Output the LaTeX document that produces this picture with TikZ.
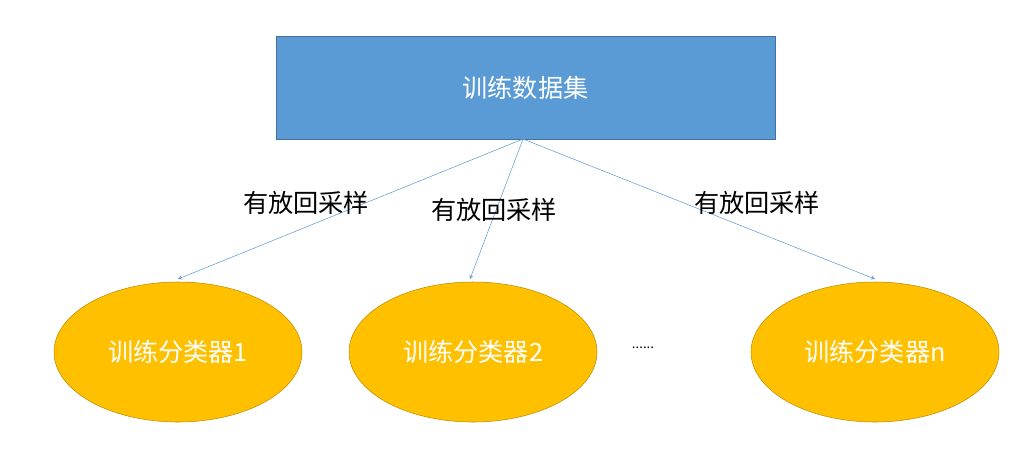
\documentclass[tikz,border=0pt]{standalone}
\usepackage{fontspec}
\setmainfont{Noto Sans CJK SC}
\usetikzlibrary{positioning}
\usetikzlibrary{shapes.geometric}
\definecolor{boxblue}{HTML}{5B9BD5}
\definecolor{boxline}{HTML}{41719C}
\definecolor{ellgold}{HTML}{FFC000}
\definecolor{ellline}{HTML}{BC8C00}

\begin{document}
\begin{tikzpicture}[x=0.0265cm,y=-0.0265cm,
  databox/.style={draw=boxline,fill=boxblue,text=white,minimum width=499*0.0265cm,minimum height=103*0.0265cm,font=\fontsize{19}{22}\selectfont},
  clf/.style={ellipse,draw=ellline,fill=ellgold,text=white,minimum width=248*0.0265cm,minimum height=140*0.0265cm,inner sep=0pt,font=\fontsize{19}{22}\selectfont},
  sample/.style={font=\fontsize{19}{22}\selectfont},
  link/.style={draw=boxblue,->,>=stealth}]
 \useasboundingbox (0,0) rectangle (1030,451);
 \node[databox] (data) at (525.5,87.5) {训练数据集};
 \coordinate (src) at (523,139);
 \node[clf] (c1) at (178,352) {训练分类器1};
 \node[clf] (c2) at (473,352) {训练分类器2};
 \node[clf] (cn) at (875,352) {训练分类器n};
 \node (dots) at (643,348) {......};
 \coordinate (t1) at (178,279);
 \coordinate (t2) at (470,279);
 \coordinate (tn) at (875,279);
 \draw[link] (src) -- (t1);
 \draw[link] (src) -- (t2);
 \draw[link] (src) -- (tn);
 % sampling labels
 \node[sample] (s1) at (306,203) {有放回采样};
 \node[sample] (s2) at (494,210) {有放回采样};
 \node[sample] (sn) at (757,203) {有放回采样};
\end{tikzpicture}
\end{document}
